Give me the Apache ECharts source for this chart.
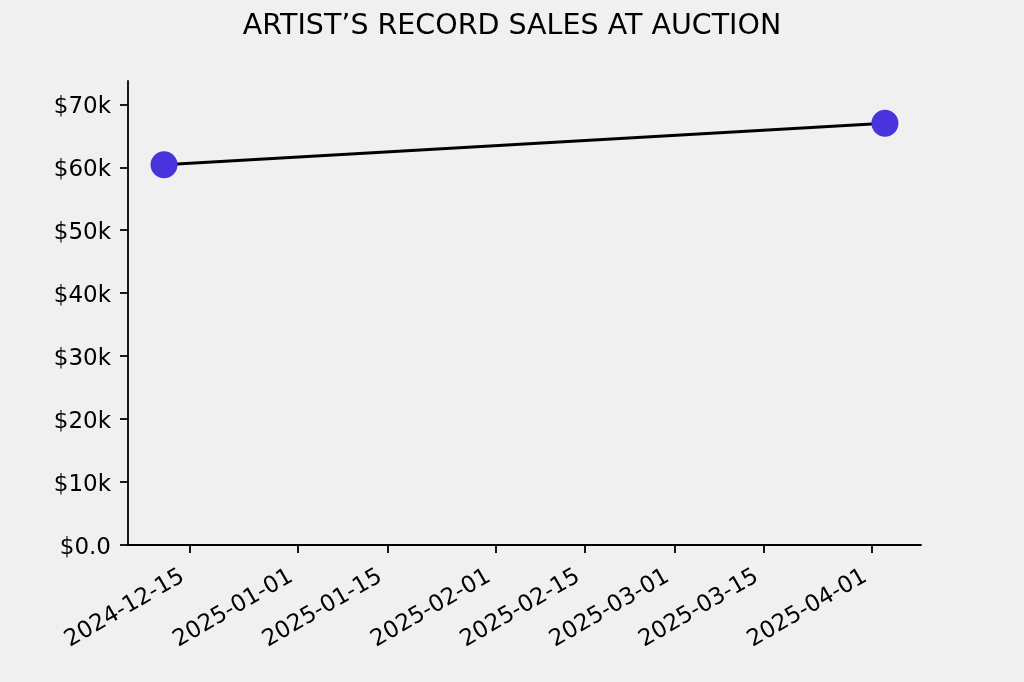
<!DOCTYPE html>
<html>
<head>
<meta charset="utf-8">
<script src="https://cdn.jsdelivr.net/npm/echarts@6/dist/echarts.min.js"></script>
<style>
html,body{margin:0;padding:0;background:#f0f0f0;}
#chart{width:1024px;height:682px;}
</style>
</head>
<body>
<div id="chart"></div>
<script>
const chartTitle = 'ARTIST\u2019S RECORD SALES AT AUCTION';
const saleDates = ['2024-12-11', '2025-04-03'];
const saleValues = [60400, 67000];
const xTickDates = ['2024-12-15', '2025-01-01', '2025-01-15', '2025-02-01', '2025-02-15', '2025-03-01', '2025-03-15', '2025-04-01'];
const yTickValues = [0, 10000, 20000, 30000, 40000, 50000, 60000, 70000];

function ts(s) { const p = s.split('-').map(Number); return Date.UTC(p[0], p[1] - 1, p[2]); }
function fmtDate(v) {
  const d = new Date(v);
  const m = String(d.getUTCMonth() + 1).padStart(2, '0');
  const dd = String(d.getUTCDate()).padStart(2, '0');
  return d.getUTCFullYear() + '-' + m + '-' + dd;
}
const xs = saleDates.map(ts);
const xSpan = xs[xs.length - 1] - xs[0];
const xMin = xs[0] - 0.05 * xSpan;
const xMax = xs[xs.length - 1] + 0.05 * xSpan;
const yMax = Math.max(...saleValues) * 1.1;

const font = 'DejaVu Sans';
const chart = echarts.init(document.getElementById('chart'), null, {renderer: 'canvas'});
chart.setOption({
  backgroundColor: '#f0f0f0',
  animation: false,
  title: {
    text: chartTitle,
    left: 'center',
    top: 7,
    textStyle: {fontFamily: font, fontSize: 28.5, fontWeight: 'normal', color: '#000'}
  },
  grid: {left: 128, right: 103, top: 81, bottom: 137, containLabel: false},
  xAxis: {
    type: 'value',
    min: xMin,
    max: xMax,
    splitLine: {show: false},
    axisLine: {show: true, lineStyle: {color: '#000', width: 1.8}},
    axisTick: {show: true, length: 8, lineStyle: {color: '#000', width: 1.8}, customValues: xTickDates.map(ts)},
    axisLabel: {
      customValues: xTickDates.map(ts),
      rotate: 30,
      margin: 26,
      padding: [0, 8, 0, 0],
      fontFamily: font, fontSize: 23, color: '#000',
      formatter: v => fmtDate(v)
    }
  },
  yAxis: {
    type: 'value',
    min: 0,
    max: yMax,
    splitLine: {show: false},
    axisLine: {show: true, lineStyle: {color: '#000', width: 1.8}},
    axisTick: {show: true, length: 8, lineStyle: {color: '#000', width: 1.8}, customValues: yTickValues},
    axisLabel: {
      customValues: yTickValues,
      margin: 17,
      fontFamily: font, fontSize: 23, color: '#000',
      formatter: v => '{a|' + (v === 0 ? '$0.0' : '$' + (v / 1000) + 'k') + '}',
      rich: {a: {fontFamily: font, fontSize: 23, color: '#000', padding: [6, 0, 0, 0]}}
    }
  },
  series: [{
    type: 'line',
    data: xs.map((x, i) => [x, saleValues[i]]),
    lineStyle: {color: '#000', width: 3},
    symbol: 'circle',
    symbolSize: 27,
    itemStyle: {color: '#4833dc', borderWidth: 0},
    z: 3
  }]
});
</script>
</body>
</html>
